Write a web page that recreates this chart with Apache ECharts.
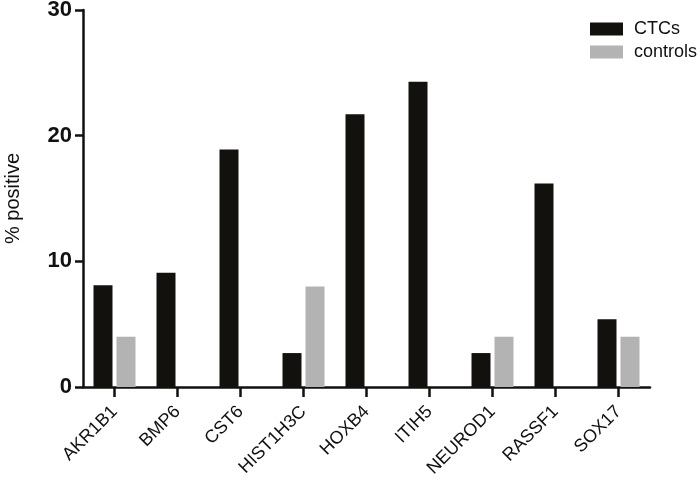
<!DOCTYPE html>
<html>
<head>
<meta charset="utf-8">
<script src="https://cdn.jsdelivr.net/npm/echarts@6/dist/echarts.min.js"></script>
<style>
  html, body { margin: 0; padding: 0; background: #fff; }
  #chart { width: 700px; height: 480px; }
</style>
</head>
<body>
<div id="chart"></div>
<script>
const genes = ['AKR1B1', 'BMP6', 'CST6', 'HIST1H3C', 'HOXB4', 'ITIH5', 'NEUROD1', 'RASSF1', 'SOX17'];
const ctcs = [8.1, 9.1, 18.9, 2.7, 21.7, 24.3, 2.7, 16.2, 5.4];
const controls = [4.0, 0, 0, 8.0, 0, 0, 4.0, 0, 4.0];
const yTicks = [0, 10, 20, 30];

const font = 'Liberation Sans, Arial, sans-serif';
const myChart = echarts.init(document.getElementById('chart'));

const option = {
  animation: false,
  textStyle: { fontFamily: font },
  grid: { left: 83, right: 50, top: 10, bottom: 93, outerBoundsMode: 'none', containLabel: false },
  legend: {
    orient: 'vertical',
    left: 585,
    top: 15,
    itemWidth: 33,
    itemHeight: 13,
    itemGap: 5,
    icon: 'rect',
    textStyle: { fontSize: 18, color: '#111', fontFamily: font, padding: [0, 0, 0, 6] },
    data: ['CTCs', 'controls']
  },
  xAxis: {
    type: 'category',
    data: genes,
    axisLine: { show: true, lineStyle: { color: '#111', width: 2.5 } },
    axisTick: { show: true, interval: 0, alignWithLabel: true, length: 10, lineStyle: { color: '#111', width: 2.5 } },
    axisLabel: { rotate: 45, interval: 0, fontSize: 18, color: '#111', margin: 22 }
  },
  yAxis: {
    type: 'value',
    min: yTicks[0],
    max: yTicks[yTicks.length - 1],
    interval: 10,
    name: '% positive',
    nameLocation: 'middle',
    nameGap: 60,
    nameTextStyle: { fontSize: 20, color: '#111' },
    splitLine: { show: false },
    axisLine: { show: true, lineStyle: { color: '#111', width: 2.5 } },
    axisTick: { show: true, length: 8, lineStyle: { color: '#111', width: 2.5 } },
    axisLabel: { fontSize: 22, fontWeight: 'bold', color: '#111', margin: 11 }
  },
  series: [
    {
      name: 'CTCs',
      type: 'bar',
      data: ctcs,
      barWidth: 19,
      barGap: '21%',
      itemStyle: { color: '#12110d' }
    },
    {
      name: 'controls',
      type: 'bar',
      data: controls,
      barWidth: 19,
      itemStyle: { color: '#b3b3b3' }
    }
  ]
};

myChart.setOption(option);
</script>
</body>
</html>
